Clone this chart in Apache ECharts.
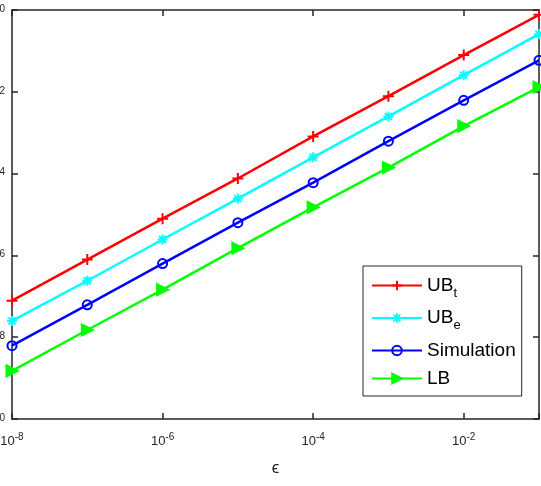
<!DOCTYPE html>
<html>
<head>
<meta charset="utf-8">
<style>
  html, body { margin: 0; padding: 0; background: #fff; }
  #main { width: 541px; height: 486px; }
</style>
<script src="https://cdn.jsdelivr.net/npm/echarts@6/dist/echarts.min.js"></script>
</head>
<body>
<div id="main"></div>
<script>
  // epsilon values (x axis)
  var eps = [1e-8, 1e-7, 1e-6, 1e-5, 1e-4, 1e-3, 1e-2, 1e-1];
  var ubT = [7.8e-8, 7.9e-7, 7.9e-6, 7.6e-5, 8.1e-4, 7.8e-3, 7.9e-2, 0.76];
  var ubE = [2.5e-8, 2.4e-7, 2.45e-6, 2.45e-5, 2.5e-4, 2.5e-3, 2.55e-2, 0.257];
  var sim = [6.2e-9, 6.2e-8, 6.3e-7, 6.3e-6, 6.0e-5, 6.2e-4, 6.2e-3, 5.9e-2];
  var lb = [1.5e-9, 1.5e-8, 1.45e-7, 1.5e-6, 1.5e-5, 1.4e-4, 1.45e-3, 1.3e-2];

  var axisColor = '#262626';
  var font = 'Liberation Sans, Arial, sans-serif';

  function pairs(ys) {
    return eps.map(function (x, i) { return [x, ys[i]]; });
  }

  // 10^n label as rich text
  function powLabel(v) {
    var e = Math.round(Math.log(v) / Math.LN10);
    if (e % 2 !== 0) return '';
    return '{b|10}{s|' + e + '}';
  }

  var xRich = {
    b: { fontSize: 13, color: axisColor, fontFamily: font },
    s: { fontSize: 10, color: axisColor, fontFamily: font, padding: [0, 0, 8, 0] }
  };
  var yRich = {
    b: { fontSize: 13, color: axisColor, fontFamily: font },
    s: { fontSize: 10, color: axisColor, fontFamily: font, padding: [0, 0, 2, 0] }
  };

  var myChart = echarts.init(document.getElementById('main'));

  function mkSeries(name, data, color, symbol, size, filled) {
    return {
      name: name,
      type: 'line',
      data: pairs(data),
      symbol: symbol,
      symbolSize: size,
      symbolKeepAspect: true,
      showAllSymbol: true,
      lineStyle: { color: color, width: 2.5 },
      itemStyle: {
        color: filled ? color : 'rgba(0,0,0,0)',
        borderColor: color,
        borderWidth: 2
      },
      emphasis: { disabled: true },
      animation: false
    };
  }

  myChart.setOption({
    animation: false,
    grid: { left: 12, top: 10, right: 2, bottom: 67, outerBoundsMode: 'none', containLabel: false },
    legend: {
      orient: 'vertical',
      left: 363,
      top: 266,
      padding: [10, 6, 8, 8],
      itemGap: 9,
      itemWidth: 50,
      itemHeight: 12,
      backgroundColor: '#fff',
      borderColor: axisColor,
      borderWidth: 1,
      borderRadius: 0,
      textStyle: {
        fontFamily: font,
        fontSize: 19,
        color: '#000',
        rich: {
          m: { fontSize: 19, fontFamily: font, color: '#000' },
          sub: { fontSize: 13, fontFamily: font, color: '#000', padding: [15, 0, 0, 0] }
        }
      },
      formatter: function (name) {
        if (name === 'UBt') return '{m|UB}{sub|t}';
        if (name === 'UBe') return '{m|UB}{sub|e}';
        return '{m|' + name + '}';
      },
      data: ['UBt', 'UBe', 'Simulation', 'LB']
    },
    xAxis: [{
      type: 'log',
      logBase: 10,
      min: 1e-8,
      max: 1e-1,
      interval: 2,
      name: '\u03f5',
      nameLocation: 'middle',
      nameGap: 41,
      nameTextStyle: { fontSize: 17, color: axisColor, fontFamily: font },
      axisLine: { lineStyle: { color: axisColor, width: 1.5 } },
      axisTick: { inside: true, length: 6, lineStyle: { color: axisColor, width: 1.5 } },
      minorTick: { show: false },
      axisLabel: { formatter: powLabel, rich: xRich, margin: 13, hideOverlap: false },
      splitLine: { show: false }
    }, {
      type: 'log',
      logBase: 10,
      position: 'top',
      min: 1e-8,
      max: 1e-1,
      interval: 2,
      axisLine: { onZero: false, lineStyle: { color: axisColor, width: 1.5 } },
      axisTick: { inside: true, length: 6, lineStyle: { color: axisColor, width: 1.5 } },
      axisLabel: { show: false },
      splitLine: { show: false }
    }],
    yAxis: [{
      type: 'log',
      logBase: 10,
      min: 1e-10,
      max: 1,
      interval: 2,
      axisLine: { show: true, onZero: false, lineStyle: { color: axisColor, width: 1.5 } },
      axisTick: { show: true, inside: true, length: 6, lineStyle: { color: axisColor, width: 1.5 } },
      axisLabel: { formatter: powLabel, rich: yRich, margin: 7 },
      splitLine: { show: false }
    }, {
      type: 'log',
      logBase: 10,
      position: 'right',
      min: 1e-10,
      max: 1,
      interval: 2,
      axisLine: { show: true, onZero: false, lineStyle: { color: axisColor, width: 1.5 } },
      axisTick: { show: true, inside: true, length: 6, lineStyle: { color: axisColor, width: 1.5 } },
      axisLabel: { show: false },
      splitLine: { show: false }
    }],
    series: [
      mkSeries('UBt', ubT, '#ff0000', 'path://M5,0 L5,10 M0,5 L10,5', 11, false),
      mkSeries('UBe', ubE, '#00ffff', 'path://M5,0 L5,10 M0,5 L10,5 M1.5,1.5 L8.5,8.5 M1.5,8.5 L8.5,1.5', 10, false),
      mkSeries('Simulation', sim, '#0000ff', 'circle', 9, false),
      mkSeries('LB', lb, '#00ff00', 'path://M0,0 L10,5 L0,10 Z', 11, true)
    ]
  });

  window.addEventListener('resize', function () {
    myChart.resize();
  });
</script>
</body>
</html>
